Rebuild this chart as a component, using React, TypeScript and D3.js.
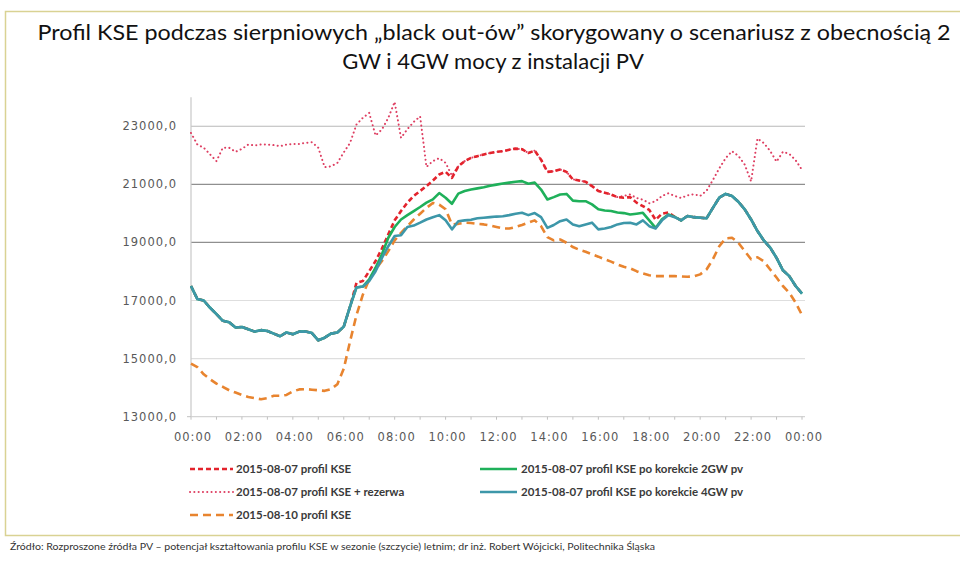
import React from "react";
import * as d3 from "d3";

// ---- categories (15-minute steps, hours) ----
const TIMES: number[] = d3.range(0, 24.001, 0.25);
const X_TICK_HOURS: number[] = d3.range(0, 25, 1);
const X_LABEL_HOURS: number[] = d3.range(0, 25, 2);
const X_TICK_LABELS: string[] = [
  "00:00", "02:00", "04:00", "06:00", "08:00", "10:00", "12:00",
  "14:00", "16:00", "18:00", "20:00", "22:00", "00:00",
];
const Y_TICKS: number[] = [13000, 15000, 17000, 19000, 21000, 23000];

// ---- series values (MW), 00:00 .. 24:00 every 15 minutes ----
const KSE_0807: number[] = [
  17500, 17050, 17000, 16750, 16530, 16300, 16250, 16070,
  16090, 16010, 15930, 15980, 15950, 15860, 15770, 15900,
  15840, 15930, 15930, 15880, 15630, 15720, 15860, 15900,
  16100, 16800, 17610, 17670, 18010, 18360, 18790, 19280,
  19760, 20080, 20370, 20600, 20770, 20940, 21130, 21340,
  21430, 21220, 21620, 21800, 21910, 21970, 22030, 22080,
  22120, 22140, 22190, 22230, 22210, 22080, 22160, 21850,
  21430, 21450, 21510, 21430, 21170, 21130, 21090, 20940,
  20770, 20710, 20650, 20560, 20540, 20560, 20370, 20250,
  20120, 19780, 19990, 20030, 19880, 19760, 19910, 19870,
  19850, 19830, 20190, 20540, 20670, 20600, 20400, 20140,
  19790, 19390, 19070, 18820, 18470, 18040, 17840, 17500,
  17240,
];

const KSE_0807_RES: number[] = [
  22770, 22370, 22260, 22030, 21800, 22260, 22260, 22120,
  22220, 22370, 22340, 22370, 22370, 22350, 22310, 22370,
  22390, 22390, 22430, 22450, 22260, 21590, 21620, 21740,
  22100, 22430, 23060, 23290, 23460, 22680, 22890, 23290,
  23840, 22600, 22900, 23150, 23340, 21600, 21800, 21900,
  21740, 21300, 21620, 21800, 21910, 21970, 22030, 22080,
  22120, 22140, 22190, 22230, 22210, 22080, 22160, 21850,
  21430, 21450, 21510, 21430, 21170, 21130, 21090, 20940,
  20770, 20710, 20650, 20560, 20600, 20650, 20530, 20470,
  20350, 20420, 20600, 20690, 20600, 20530, 20620, 20660,
  20600, 20780, 21150, 21550, 21900, 22140, 21980, 21680,
  21100, 22580, 22420, 22150, 21780, 22120, 22050, 21830,
  21500,
];

const KSE_0810: number[] = [
  14830, 14710, 14460, 14290, 14140, 14030, 13910, 13830,
  13750, 13680, 13640, 13600, 13640, 13720, 13720, 13750,
  13870, 13940, 13950, 13930, 13910, 13890, 13950, 14120,
  14650, 15600, 16500, 17200, 17730, 18070, 18360, 18700,
  19070, 19330, 19560, 19790, 19990, 20190, 20360, 20300,
  20140, 19620, 19640, 19680, 19670, 19640, 19620, 19580,
  19530, 19480, 19480, 19530, 19600, 19680, 19760, 19560,
  19180, 19070, 19100, 18990, 18840, 18750, 18680, 18590,
  18510, 18420, 18340, 18240, 18160, 18110, 18010, 17930,
  17870, 17840, 17840, 17840, 17840, 17830, 17820, 17830,
  17900, 18070, 18420, 18870, 19140, 19160, 18990, 18700,
  18420, 18490, 18350, 18070, 17790, 17500, 17270, 16930,
  16500,
];

const KSE_0807_2GW: number[] = [
  17500, 17050, 17000, 16750, 16530, 16300, 16250, 16070,
  16090, 16010, 15930, 15980, 15950, 15860, 15770, 15900,
  15840, 15930, 15930, 15880, 15630, 15720, 15860, 15900,
  16100, 16800, 17450, 17480, 17730, 18130, 18590, 19160,
  19530, 19790, 19940, 20080, 20220, 20370, 20480, 20700,
  20540, 20330, 20680, 20770, 20820, 20860, 20900, 20950,
  20990, 21030, 21060, 21090, 21110, 21020, 21060, 20820,
  20480, 20560, 20650, 20670, 20440, 20420, 20420, 20310,
  20140, 20100, 20080, 20030, 20010, 19960, 19990, 20020,
  19760, 19500, 19800, 19960, 19880, 19760, 19910, 19870,
  19850, 19830, 20190, 20540, 20670, 20600, 20400, 20140,
  19790, 19390, 19070, 18820, 18470, 18040, 17840, 17500,
  17240,
];

const KSE_0807_4GW: number[] = [
  17500, 17050, 17000, 16750, 16530, 16300, 16250, 16070,
  16090, 16010, 15930, 15980, 15950, 15860, 15770, 15900,
  15840, 15930, 15930, 15880, 15630, 15720, 15860, 15900,
  16100, 16800, 17450, 17480, 17670, 18010, 18470, 18870,
  19220, 19250, 19530, 19580, 19680, 19790, 19870, 19940,
  19760, 19450, 19730, 19760, 19780, 19830, 19850, 19870,
  19890, 19900, 19940, 19990, 20020, 19940, 20010, 19870,
  19500, 19600, 19730, 19790, 19620, 19560, 19620, 19680,
  19450, 19480, 19530, 19620, 19670, 19680, 19620, 19760,
  19560, 19480, 19760, 19940, 19870, 19760, 19910, 19870,
  19850, 19830, 20190, 20540, 20670, 20600, 20400, 20140,
  19790, 19390, 19070, 18820, 18470, 18040, 17840, 17500,
  17240,
];

const SERIES_NAMES: string[] = [
  "2015-08-07 profil KSE",
  "2015-08-07 profil KSE + rezerwa",
  "2015-08-10 profil KSE",
  "2015-08-07 profil KSE po korekcie 2GW pv",
  "2015-08-07 profil KSE po korekcie 4GW pv",
];

const TITLE_LINES: string[] = [
  "Profil KSE podczas sierpniowych \u201eblack out-\u00f3w\u201d skorygowany o scenariusz z obecno\u015bci\u0105 2",
  "GW i 4GW mocy z instalacji PV",
];
const SOURCE_TEXT =
  "\u0179r\u00f3d\u0142o: Rozproszone \u017ar\u00f3d\u0142a PV \u2013 potencja\u0142 kszta\u0142towania profilu KSE w sezonie (szczycie) letnim; dr in\u017c. Robert W\u00f3jcicki, Politechnika \u015al\u0105ska";

// ---- styles ----
type Style = { color: string; width: number; dash?: string; cap?: "butt" | "round" };
const STYLES: Style[] = [
  { color: "#e3232c", width: 2.6, dash: "5 3" },
  { color: "#de3f62", width: 2, dash: "0.1 4.2", cap: "round" },
  { color: "#e8842f", width: 2.6, dash: "8 5" },
  { color: "#1fb05a", width: 2.6 },
  { color: "#3d97a9", width: 2.6 },
];
const SERIES_DATA: number[][] = [KSE_0807, KSE_0807_RES, KSE_0810, KSE_0807_2GW, KSE_0807_4GW];
const DRAW_ORDER = [1, 0, 2, 3, 4];

const W = 960;
const H = 562;
const X0 = 191;
const X1 = 802;
const YB = 416.7;
const YT = 97.2;

const fmtLocale = d3.formatLocale({ decimal: ",", thousands: "", grouping: [3], currency: ["", ""] });
const fmtY = fmtLocale.format(".1f");

function gridColor(v: number): string {
  if (v === 19000 || v === 21000) return "#8f8f8f";
  if (v === 23000) return "#b8b8b8";
  return "#dedede";
}

export default function App() {
  const x = d3.scaleLinear().domain([0, 24]).range([X0, X1]);
  const y = d3.scaleLinear().domain([13000, 24000]).range([YB, YT]);
  const line = d3
    .line<number>()
    .x((_, i) => x(TIMES[i]))
    .y((d) => y(d));

  const legendItems = [
    { idx: 0, lx: 190, len: 43, tx: 236, cy: 469 },
    { idx: 1, lx: 190, len: 43, tx: 236, cy: 492 },
    { idx: 2, lx: 190, len: 43, tx: 236, cy: 515 },
    { idx: 3, lx: 480, len: 37, tx: 521, cy: 469 },
    { idx: 4, lx: 480, len: 37, tx: 521, cy: 492 },
  ];

  return (
    <svg
      width={W}
      height={H}
      viewBox={`0 0 ${W} ${H}`}
      style={{ position: "absolute", left: 0, top: 0, display: "block", background: "#fff" }}
    >
      <rect x={0} y={0} width={W} height={H} fill="#fff" />
      <rect x={5.5} y={11.5} width={960} height={524} fill="none" stroke="#d9d293" strokeWidth={1.5} />

      {/* title */}
      <g fontFamily="Lato, 'Open Sans', sans-serif" fontSize={22} fill="#111" textAnchor="middle">
        <text x={494} y={40} textLength={913} lengthAdjust="spacingAndGlyphs">
          {TITLE_LINES[0]}
        </text>
        <text x={493} y={69}>
          {TITLE_LINES[1]}
        </text>
      </g>

      {/* gridlines */}
      {Y_TICKS.slice(1).map((v) => (
        <line key={v} x1={X0} x2={805} y1={y(v)} y2={y(v)} stroke={gridColor(v)} strokeWidth={1.2} />
      ))}
      {/* axes */}
      <line x1={X0} x2={X0} y1={YT} y2={YB} stroke="#c8c8c8" strokeWidth={1.2} />
      <line x1={X0} x2={805} y1={YB} y2={YB} stroke="#d4d4d4" strokeWidth={1.2} />
      {X_TICK_HOURS.map((h) => (
        <line key={h} x1={x(h)} x2={x(h)} y1={YB} y2={YB + 3} stroke="#c0c0c0" strokeWidth={1} />
      ))}
      <line x1={X0 - 4} x2={X0} y1={YB} y2={YB} stroke="#c0c0c0" />

      {/* y labels */}
      <g fontFamily="'DejaVu Sans', sans-serif" fontSize={11.5} fill="#595959" textAnchor="end" letterSpacing={1}>
        {Y_TICKS.map((v) => (
          <text key={v} x={177} y={y(v) + 4}>
            {fmtY(v)}
          </text>
        ))}
      </g>
      {/* x labels */}
      <g fontFamily="'DejaVu Sans', sans-serif" fontSize={11.5} fill="#595959" textAnchor="middle" letterSpacing={1}>
        {X_LABEL_HOURS.map((h, i) => (
          <text key={i} x={x(h) + 2} y={441}>
            {X_TICK_LABELS[i]}
          </text>
        ))}
      </g>

      {/* series */}
      {DRAW_ORDER.map((si) => {
        const s = STYLES[si];
        return (
          <path
            key={si}
            d={line(SERIES_DATA[si]) || ""}
            fill="none"
            stroke={s.color}
            strokeWidth={s.width}
            strokeDasharray={s.dash}
            strokeLinecap={s.cap || "butt"}
            strokeLinejoin="round"
          />
        );
      })}

      {/* legend */}
      <g fontFamily="Lato, sans-serif" fontWeight={700} fontSize={11.5} fill="#3a3a3a">
        {legendItems.map((it) => {
          const s = STYLES[it.idx];
          return (
            <g key={it.idx}>
              <line
                x1={it.lx}
                x2={it.lx + it.len}
                y1={it.cy}
                y2={it.cy}
                stroke={s.color}
                strokeWidth={s.width}
                strokeDasharray={s.dash}
                strokeLinecap={s.cap || "butt"}
              />
              <text x={it.tx} y={it.cy + 4}>
                {SERIES_NAMES[it.idx]}
              </text>
            </g>
          );
        })}
      </g>

      {/* source */}
      <text x={10} y={550} fontFamily="Lato, sans-serif" fontSize={8.5} fill="#333" textLength={645} lengthAdjust="spacingAndGlyphs">
        {SOURCE_TEXT}
      </text>
    </svg>
  );
}
